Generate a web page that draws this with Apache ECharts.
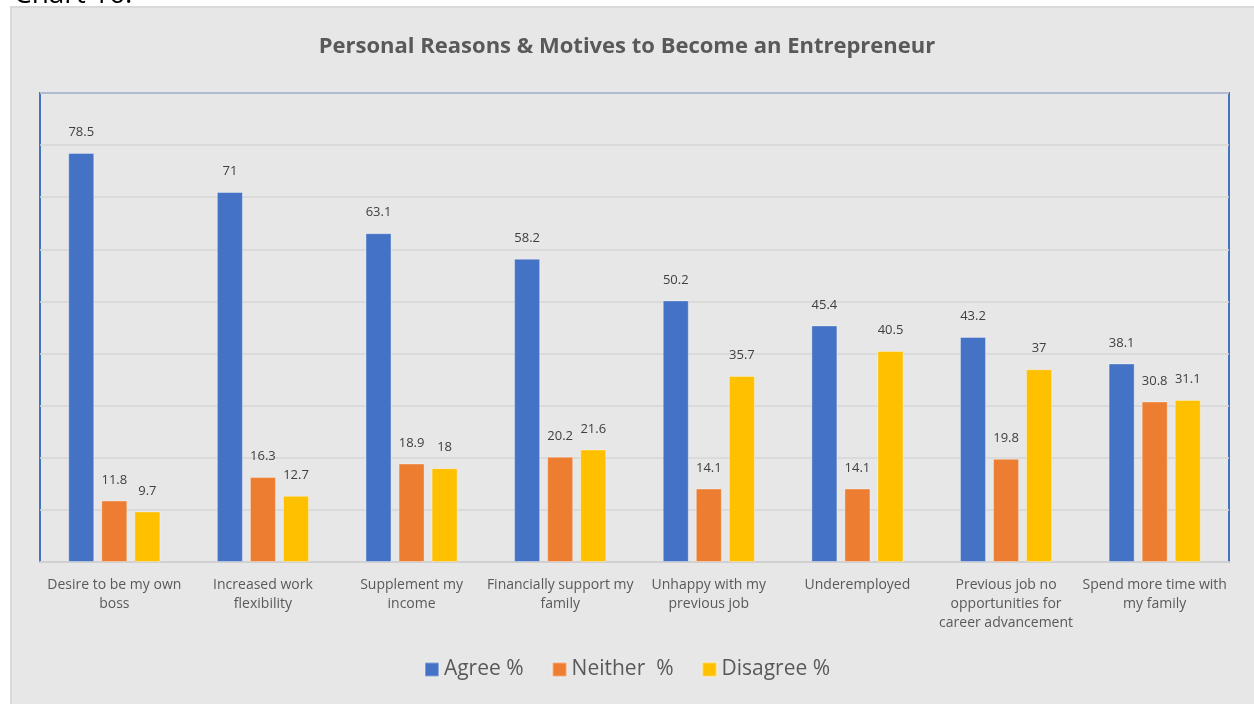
<!DOCTYPE html>
<html>
<head>
<meta charset="utf-8">
<script src="https://cdn.jsdelivr.net/npm/echarts@6/dist/echarts.min.js"></script>
<style>
  html, body { margin: 0; padding: 0; background: #fff; }
  #chart { width: 1254px; height: 704px; }
</style>
</head>
<body>
<div id="chart"></div>
<script>
// 分类
const categories = [
  'Desire to be my own\nboss',
  'Increased work\nflexibility',
  'Supplement my\nincome',
  'Financially support my\nfamily',
  'Unhappy with my\nprevious job',
  'Underemployed',
  'Previous job no\nopportunities for\ncareer advancement',
  'Spend more time with\nmy family'
]
const agree = [78.5, 71, 63.1, 58.2, 50.2, 45.4, 43.2, 38.1]
const neither = [11.8, 16.3, 18.9, 20.2, 14.1, 14.1, 19.8, 30.8]
const disagree = [9.7, 12.7, 18, 21.6, 35.7, 40.5, 37, 31.1]

const fontFamily = 'Open Sans, Noto Sans, sans-serif'

const barSeries = (name, data, color) => ({
  name,
  type: 'bar',
  data,
  barGap: '27%',
  barCategoryGap: '38%',
  itemStyle: { color, borderColor: 'rgba(255,255,255,0.35)', borderWidth: 1 },
  label: {
    show: true,
    position: 'top',
    distance: 14,
    color: '#404040',
    fontSize: 13,
    fontFamily
  }
})

const chart = echarts.init(document.getElementById('chart'))
chart.setOption({
  backgroundColor: '#ffffff',
  animation: false,
  graphic: [
    {
      type: 'rect',
      z: -10,
      shape: { x: 11, y: 7, width: 1260, height: 710 },
      style: { fill: '#e7e7e7', stroke: '#d9d9d9', lineWidth: 2 }
    },
    {
      type: 'text',
      left: 14,
      top: -19,
      style: { text: 'Chart 16:', fill: '#000', fontSize: 28, fontFamily }
    }
  ],
  title: {
    text: 'Personal Reasons & Motives to Become an Entrepreneur',
    left: 'center',
    top: 31,
    textStyle: { color: '#595959', fontSize: 22, fontWeight: 'bold', fontFamily }
  },
  legend: {
    bottom: 19,
    left: 'center',
    itemWidth: 14,
    itemHeight: 14,
    itemGap: 28,
    icon: 'rect',
    textStyle: { color: '#595959', fontSize: 21, fontFamily }
  },
  grid: {
    left: 40,
    right: 25,
    top: 93,
    bottom: 142,
    show: true,
    borderColor: '#4472c4',
    borderWidth: 2,
    containLabel: false
  },
  xAxis: {
    type: 'category',
    data: categories,
    axisTick: { show: false },
    axisLine: { lineStyle: { color: '#d0d0d0', width: 2 } },
    axisLabel: {
      color: '#595959',
      fontSize: 14,
      lineHeight: 19,
      margin: 14,
      interval: 0,
      fontFamily
    }
  },
  yAxis: {
    type: 'value',
    min: 0,
    max: 90,
    interval: 10,
    axisLabel: { show: false },
    axisLine: { show: false },
    axisTick: { show: false },
    splitLine: { lineStyle: { color: '#d6d6d6', width: 1.5 } }
  },
  series: [
    barSeries('Agree %', agree, '#4472c4'),
    barSeries('Neither  %', neither, '#ed7d31'),
    barSeries('Disagree %', disagree, '#ffc000')
  ]
})
</script>
</body>
</html>
